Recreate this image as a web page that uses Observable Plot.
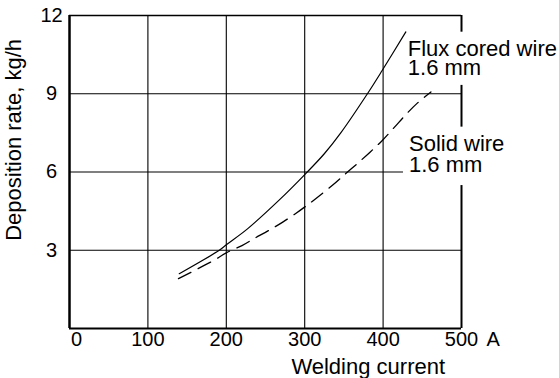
<!DOCTYPE html>
<html><head><meta charset="utf-8">
<script src="https://cdn.jsdelivr.net/npm/d3@7"></script>
<script src="https://cdn.jsdelivr.net/npm/@observablehq/plot@0.6"></script>
<style>
body{margin:0;background:#fff}
#chart svg{display:block}
</style>
</head><body><div id="chart"></div>
<script>
// Data
const fluxCurrent = [140, 191, 200, 227, 267, 301, 325, 346, 380, 399, 429];
const fluxRate    = [2.10, 3.00, 3.21, 3.82, 4.91, 5.93, 6.70, 7.50, 9.00, 9.90, 11.37];
const solidCurrent = [139, 184, 200, 220, 235, 254, 272, 289, 301, 312, 335, 352, 367, 384, 399, 414, 429, 444, 461];
const solidRate    = [1.91, 2.61, 2.90, 3.18, 3.44, 3.76, 4.08, 4.42, 4.68, 4.93, 5.48, 5.93, 6.32, 6.78, 7.21, 7.70, 8.20, 8.65, 9.07];

const xTicks = [100, 200, 300, 400, 500];
const xZeroTick = [0];
const yTicks = [3, 6, 9, 12];
const xGrid = [100, 200, 300, 400];
const yGridFull = [3, 9];
const yGridShort = [6];
const shortGridEnd = 426;
const rightFrameFrom = [0, 7.72, 11.36];
const rightFrameTo   = [5.48, 9.32, 12];

const fluxLabel = ["Flux cored wire", "1.6 mm"];
const fluxLabelY = [10.43, 9.70];
const solidLabel = ["Solid wire", "1.6 mm"];
const solidLabelY = [6.79, 6.0];
const xUnit = "A";
const xTitle = "Welding current";
const yTitle = "Deposition rate, kg/h";

const flux = fluxCurrent.map((x, i) => ({x, y: fluxRate[i]}));
const solid = solidCurrent.map((x, i) => ({x, y: solidRate[i]}));

const font = "'Liberation Sans', Arial, Helvetica, sans-serif";

const chart = Plot.plot({
  width: 559,
  height: 378,
  marginLeft: 69,
  marginRight: 98,
  marginTop: 15,
  marginBottom: 50,
  x: {domain: [0, 500], axis: null},
  y: {domain: [0, 12], axis: null},
  style: {fontFamily: font, background: "#fff", color: "#000"},
  marks: [
    Plot.ruleX(xGrid, {stroke: "#000", strokeWidth: 1.1}),
    Plot.ruleY(yGridFull, {stroke: "#000", strokeWidth: 1.1}),
    Plot.ruleY(yGridShort, {x1: 0, x2: shortGridEnd, stroke: "#000", strokeWidth: 1.1}),
    // frame
    Plot.ruleX([0], {stroke: "#000", strokeWidth: 2.5}),
    Plot.ruleY([0], {stroke: "#000", strokeWidth: 2}),
    Plot.ruleY([12], {stroke: "#000", strokeWidth: 1.6}),
    Plot.ruleX(rightFrameFrom, {x: () => 500, y1: (d) => d, y2: (d, i) => rightFrameTo[i], stroke: "#000", strokeWidth: 2}),
    // curves
    Plot.line(flux, {x: "x", y: "y", curve: "catmull-rom", stroke: "#000", strokeWidth: 1.2}),
    Plot.line(solid, {x: "x", y: "y", curve: "catmull-rom", stroke: "#000", strokeWidth: 1.3, strokeDasharray: "14,8"}),
    // curve labels
    Plot.text(fluxLabel, {x: () => 431.5, y: (d, i) => fluxLabelY[i], text: d => d, textAnchor: "start", lineAnchor: "bottom", fontSize: 22, fill: "#000"}),
    Plot.text(solidLabel, {x: () => 433, y: (d, i) => solidLabelY[i], text: d => d, textAnchor: "start", lineAnchor: "bottom", fontSize: 22, fill: "#000"}),
    // y tick labels
    Plot.text(yTicks, {y: d => d, text: d => String(d), frameAnchor: "left", dx: -18, textAnchor: "middle", fontSize: 20, fill: "#000"}),
    // x tick labels
    Plot.text(xTicks, {x: d => d, text: d => String(d), frameAnchor: "bottom", dy: 17.5, lineAnchor: "bottom", textAnchor: "middle", fontSize: 20, fill: "#000"}),
    Plot.text(xZeroTick, {x: d => d, text: d => String(d), frameAnchor: "bottom", dy: 17.5, dx: 1.5, lineAnchor: "bottom", textAnchor: "start", fontSize: 20, fill: "#000"}),
    Plot.text([xUnit], {x: () => 500, text: d => d, frameAnchor: "bottom", dy: 17.5, dx: 25, lineAnchor: "bottom", textAnchor: "start", fontSize: 20, fill: "#000"}),
    // axis titles
    Plot.text([xTitle], {x: () => 381, text: d => d, frameAnchor: "bottom", dy: 45, lineAnchor: "bottom", textAnchor: "middle", fontSize: 22, fill: "#000"}),
    Plot.text([yTitle], {y: () => 7.23, text: d => d, frameAnchor: "left", dx: -56, rotate: -90, textAnchor: "middle", fontSize: 22, fill: "#000"})
  ]
});
document.getElementById("chart").append(chart);
</script>
</body></html>
